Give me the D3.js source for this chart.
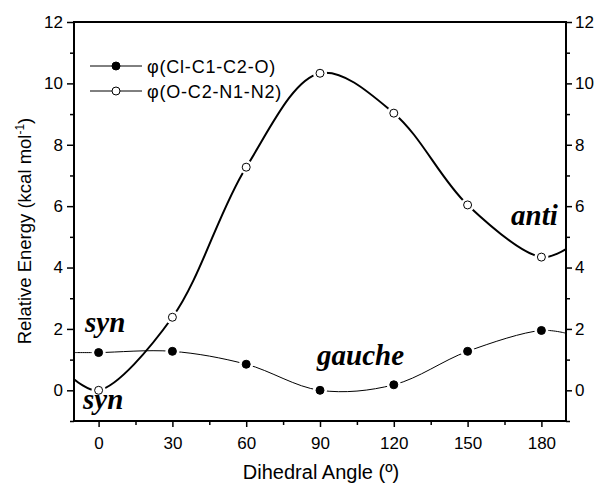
<!DOCTYPE html>
<html>
<head>
<meta charset="utf-8">
<script src="https://cdn.jsdelivr.net/npm/d3@7"></script>
<style>
  body { margin: 0; background: #fff; }
  text { font-family: Arial, "Liberation Sans", sans-serif; fill: #000; }
  .note { font-family: "Times New Roman", "Liberation Serif", serif; font-weight: bold; font-style: italic; font-size: 29px; }
</style>
</head>
<body>
<div id="chart"></div>
<script>
// dihedral angles (deg)
var angles = [0, 30, 60, 90, 120, 150, 180];
// phi(Cl-C1-C2-O), filled circles
var clValues = [1.23, 1.27, 0.85, 0.0, 0.18, 1.27, 1.95];
// phi(O-C2-N1-N2), open circles
var oValues = [0.0, 2.38, 7.27, 10.33, 9.03, 6.04, 4.34];
// where each curve meets the left (-10) and right (190) frame
var clEdges = [1.23, 1.86];
var oEdges = [0.36, 4.6];

var xTicks = [0, 30, 60, 90, 120, 150, 180];
var yTicks = [0, 2, 4, 6, 8, 10, 12];

const w = 598;
const h = 484;
const pLeft = 74, pRight = 566, pTop = 22, pBottom = 421;

const xScale = d3.scaleLinear().domain([-10, 190]).range([pLeft, pRight]);
const yScale = d3.scaleLinear().domain([-1, 12]).range([pBottom, pTop]);

const svg = d3.select("#chart").append("svg")
    .attr("width", w)
    .attr("height", h);

svg.append("clipPath").attr("id", "plotclip")
    .append("rect")
    .attr("x", pLeft).attr("y", pTop)
    .attr("width", pRight - pLeft).attr("height", pBottom - pTop);

const line = d3.line()
    .x((d) => xScale(d[0]))
    .y((d) => yScale(d[1]))
    .curve(d3.curveCatmullRom.alpha(0.5));

function withEdges(vals, edges) {
    var pts = [[-10, edges[0]]];
    angles.forEach((a, i) => pts.push([a, vals[i]]));
    pts.push([190, edges[1]]);
    return pts;
}

const plot = svg.append("g").attr("clip-path", "url(#plotclip)");

plot.append("path")
    .datum(withEdges(clValues, clEdges))
    .attr("d", line)
    .attr("fill", "none")
    .attr("stroke", "#000")
    .attr("stroke-width", 1);

plot.append("path")
    .datum(withEdges(oValues, oEdges))
    .attr("d", line)
    .attr("fill", "none")
    .attr("stroke", "#000")
    .attr("stroke-width", 2);

// white halos make the gaps round the markers
function drawMarkers(vals, filled) {
    plot.selectAll(null)
        .data(vals)
        .enter()
        .append("circle")
        .attr("cx", (d, i) => xScale(angles[i]))
        .attr("cy", (d) => yScale(d))
        .attr("r", 7)
        .attr("fill", "#fff");
    plot.selectAll(null)
        .data(vals)
        .enter()
        .append("circle")
        .attr("cx", (d, i) => xScale(angles[i]))
        .attr("cy", (d) => yScale(d))
        .attr("r", 4)
        .attr("fill", filled ? "#000" : "#fff")
        .attr("stroke", "#000")
        .attr("stroke-width", 1);
}
drawMarkers(clValues, true);
drawMarkers(oValues, false);

// axes
const xAxis = d3.axisBottom(xScale).tickValues(xTicks).tickSize(6).tickPadding(10).tickFormat(d3.format("d"));
const xMinor = d3.axisBottom(xScale).tickValues(d3.range(15, 190, 30)).tickSize(4).tickFormat("");
const yAxisL = d3.axisLeft(yScale).tickValues(yTicks).tickSize(7).tickPadding(4);
const yMinorL = d3.axisLeft(yScale).tickValues(d3.range(-1, 12, 2)).tickSize(4).tickFormat("");
const yAxisR = d3.axisRight(yScale).tickValues(yTicks).tickSize(6).tickPadding(3);
const yMinorR = d3.axisRight(yScale).tickValues(d3.range(-1, 12, 2)).tickSize(4).tickFormat("");

function styleAxis(g) {
    g.select(".domain").remove();
    g.selectAll(".tick line").attr("stroke", "#000").attr("stroke-width", 1.5);
    g.selectAll(".tick text").style("font-size", "17px").attr("fill", "#000");
}

svg.append("g").attr("transform", "translate(0," + pBottom + ")").call(xAxis).call(styleAxis);
svg.append("g").attr("transform", "translate(0," + pBottom + ")").call(xMinor).call(styleAxis);
svg.append("g").attr("transform", "translate(" + pLeft + ",0)").call(yAxisL).call(styleAxis);
svg.append("g").attr("transform", "translate(" + pLeft + ",0)").call(yMinorL).call(styleAxis);
svg.append("g").attr("transform", "translate(" + pRight + ",0)").call(yAxisR).call(styleAxis);
svg.append("g").attr("transform", "translate(" + pRight + ",0)").call(yMinorR).call(styleAxis);

// frame
svg.append("rect")
    .attr("x", pLeft).attr("y", pTop)
    .attr("width", pRight - pLeft).attr("height", pBottom - pTop)
    .attr("fill", "none")
    .attr("stroke", "#000")
    .attr("stroke-width", 2);

// axis titles
svg.append("text")
    .attr("x", 321)
    .attr("y", 479)
    .attr("text-anchor", "middle")
    .style("font-size", "20px")
    .text("Dihedral Angle (º)");

var yt = svg.append("text")
    .attr("transform", "translate(31,231) rotate(-90)")
    .attr("text-anchor", "middle")
    .style("font-size", "18.5px");
yt.append("tspan").text("Relative Energy (kcal mol");
yt.append("tspan").attr("dy", -7).style("font-size", "12px").text("-1");
yt.append("tspan").attr("dy", 7).text(")");

// legend
var legend = [["φ(Cl-C1-C2-O)", true], ["φ(O-C2-N1-N2)", false]];
legend.forEach((d, i) => {
    var y = 66 + i * 25;
    svg.append("line").attr("x1", 90).attr("x2", 142).attr("y1", y).attr("y2", y)
        .attr("stroke", "#000").attr("stroke-width", 1);
    svg.append("circle").attr("cx", 116).attr("cy", y).attr("r", 4)
        .attr("fill", d[1] ? "#000" : "#fff").attr("stroke", "#000");
    svg.append("text").attr("x", 147).attr("y", y + 7)
        .style("font-size", "18px").style("letter-spacing", "0.8px").text(d[0]);
});

// conformer notes
var notes = [["syn", 85, 332], ["syn", 83, 409], ["gauche", 317, 365], ["anti", 511, 225]];
notes.forEach((d) => {
    svg.append("text").attr("class", "note").attr("x", d[1]).attr("y", d[2]).text(d[0]);
});
</script>
</body>
</html>
